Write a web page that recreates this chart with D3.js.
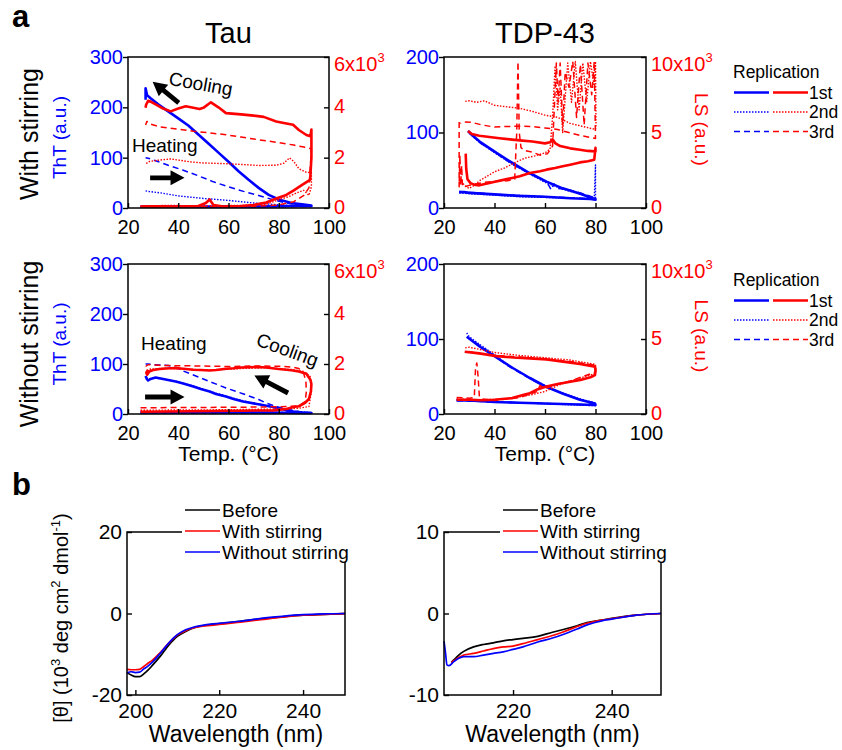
<!DOCTYPE html>
<html>
<head>
<meta charset="utf-8">
<title>Tau / TDP-43</title>
<script src="https://cdn.jsdelivr.net/npm/d3@7"></script>
<style>
  body { margin: 0; background: #fff; }
  svg { display: block; font-family: "Liberation Sans", Arial, sans-serif; }
</style>
</head>
<body>
<svg id="fig" width="842" height="750"></svg>
<script>
// ---------- data: panel a, [temperature (°C), value] in measurement order (heating then cooling) ----------
const tempTicks = [20, 40, 60, 80, 100];
const replicates = ["1st", "2nd", "3rd"];

// Tau, with stirring
const tauStirTht1 = [[25,3],[40,3],[55,3],[70,3],[85,4],[93,4],[93,5],[90,7],[85,10],[80,17],[76,26],[72,40],[68,56],[64,73],[60,92],[56,110],[52,128],[48,146],[44,164],[40,178],[36,192],[32,206],[29,218],[27.6,224],[27,238],[27,215]];
const tauStirTht2 = [[25,2],[50,2],[75,2],[93,3],[85,5],[78,7],[70,10],[60,15],[50,19],[40,24],[33,30],[28,33],[27,34]];
const tauStirTht3 = [[25,2],[60,2],[93,3],[93,4],[88,6],[83,10],[78,16],[72,25],[66,33],[60,42],[54,52],[48,64],[42,75],[36,85],[31,94],[28,99],[27,100]];
const tauStirLs1 = [[25,60],[30,70],[40,60],[48,80],[51,200],[52.5,340],[54,120],[58,60],[65,80],[70,120],[75,220],[79,380],[83,520],[86,700],[89,900],[91.5,1060],[92.5,1120],[93,2000],[93,3120],[92.6,2850],[91,2900],[88,3100],[85.7,3310],[82,3380],[79,3440],[74,3620],[70,3670],[65,3720],[59,3770],[56,4000],[53,4200],[50,3980],[48.5,3930],[45,4000],[43,4040],[40,3950],[37,3840],[34,3950],[31,4120],[29,4230],[28,4260],[27.2,4100],[27,3980]];
const tauStirLs2 = [[25,80],[35,100],[50,90],[65,100],[75,150],[80,330],[84,450],[87,600],[90,700],[92,500],[93,850],[93,1400],[91,1420],[88,1560],[86,1850],[84.3,1990],[82,1780],[79,1700],[72,1690],[65,1730],[59,1760],[50,1790],[45,1830],[37,1950],[32,1900],[28.5,1850],[27,1750]];
const tauStirLs3 = [[25,40],[40,40],[55,50],[70,70],[80,120],[86,250],[90,500],[92,800],[93,2300],[93,2350],[90,2420],[86,2500],[80,2600],[72,2710],[65,2820],[59,2910],[52,2990],[46,3050],[40,3130],[33,3220],[29,3330],[27.5,3440],[27,3300]];

// Tau, without stirring
const tauNoTht1 = [[25,3],[45,3],[70,3],[93,2],[88,3],[85.7,5],[82,9],[77.7,14],[72.4,19],[68,23],[65.8,25],[62,30],[59,35],[55,40],[52.5,45],[49,50],[46,55],[42,61],[39,65],[35,69],[31,73],[29,70],[28,67],[27.5,70],[27,76]];
const tauNoTht2 = [[25,4],[60,4],[93,3],[85,6],[78,13],[72,20],[66,26],[59,36],[52,46],[46,56],[40,64],[34,70],[30,72],[28,70],[27,73]];
const tauNoTht3 = [[25,2],[93,2],[89,4],[86,7],[82,11],[79,15],[75,22],[72,29],[66,40],[59,52],[53,64],[46,78],[42,86],[39,93],[36,97],[32,98],[28,100],[27,100]];
const tauNoLs1 = [[25,90],[35,100],[45,110],[55,120],[65,130],[72,140],[78,146],[83,200],[86,280],[88,310],[90.5,450],[92,600],[92.8,900],[93,1200],[92.6,1370],[91,1610],[88,1700],[85,1750],[80,1800],[75,1860],[72,1880],[68,1870],[65,1860],[62,1830],[59,1810],[55,1760],[52.5,1740],[49,1760],[46,1770],[42,1810],[39,1840],[35,1820],[32.6,1800],[30,1760],[28.5,1700],[27.6,1570],[27.3,1650],[28,1770]];
const tauNoLs2 = [[25,150],[40,160],[60,170],[80,200],[88,230],[92,300],[93,900],[92.5,1500],[90,1700],[85,1780],[75,1850],[65,1820],[55,1760],[45,1780],[35,1830],[29,1800],[27,1700]];
const tauNoLs3 = [[25,250],[45,260],[65,270],[80,290],[88,320],[90.5,500],[91,900],[90.8,1300],[90,1600],[88,1820],[85,1880],[80,1910],[70,1920],[60,1900],[50,1920],[40,1930],[32,1950],[28,1970],[27,1900]];

// TDP-43, with stirring
const tdpStirTht1 = [[26,21],[28,21],[30,20],[35,19],[40,18],[50,16],[60,15],[70,13],[78,12],[80,11],[80,12],[79,13],[74,19],[67,26],[60.6,35],[54,46],[47.4,59],[40.8,73],[34.1,88],[31,97],[29.5,102]];
const tdpStirTht2 = [[26,20],[30,19],[40,17],[50,15],[60,14],[70,13],[79.5,12],[80,57],[80,12],[74,18],[67,25],[60,34],[54,45],[47,58],[41,71],[34,87],[30,99]];
const tdpStirTht3 = [[26,22],[40,18],[60,15],[80,12],[80,13],[74,20],[68,25],[65,26],[63.5,32],[62.5,24],[61,33],[58,40],[54,46],[47,58],[41,72],[34,87],[30,100]];
const tdpStirLs1 = [[28.6,3600],[28.8,2600],[29.3,1900],[30.5,1650],[32,1550],[34,1500],[38,1650],[41,1770],[44,1880],[47,1990],[50,2100],[54,2320],[58,2430],[60.6,2540],[64,2650],[67,2760],[70,2870],[73.8,3020],[77,3100],[79.5,3200],[80,3980],[80,3750],[77,3780],[73.8,3860],[70,3950],[66,4100],[64,4300],[63,4550],[62,4350],[60,4280],[55,4400],[50,4480],[47,4530],[42,4620],[38,4700],[34,4790],[31,4900],[29.5,5100]];
const tdpStirLs2 = [[27,1800],[28,1500],[30,1300],[32,1500],[34,1800],[37,2100],[40,2400],[44,2650],[48,3000],[52,3300],[56,3450],[60,3650],[62,3900],[63,6000],[64,9400],[65,6500],[66,8000],[67,5000],[69,9600],[70.5,7000],[72,9700],[73.5,6500],[75,9600],[76.5,7000],[78,9700],[79.5,8000],[80,9700],[80.2,5500],[80,5200],[75,5400],[70,5600],[65,6000],[60,6150],[55,6400],[50,6600],[45,6700],[40,6800],[36,7100],[33,7000],[30,7100],[28,7050]];
const tdpStirLs3 = [[26,5700],[26,1400],[26.3,3500],[26.6,1500],[27,2800],[27.3,1450],[28,1400],[30,1500],[33,1600],[36,1700],[40,1750],[45,1800],[48,1900],[48.8,5000],[49.3,9700],[49.8,5000],[50.5,4000],[52,3800],[55,3700],[58,3500],[61,3600],[63,4100],[64.5,9600],[65.2,7000],[66,9600],[67,5500],[68,9000],[69.5,8000],[71,9700],[72.5,6000],[74,9500],[75.5,5500],[77,9600],[78.5,7500],[79.5,9700],[80,4600],[77,4700],[74,4800],[70,4970],[65,5200],[60,5300],[55,5400],[50,5410],[45,5400],[40,5360],[35,5500],[31,5670],[28,5700],[26.5,5600]];

// TDP-43, without stirring
const tdpNoTht1 = [[25,18],[30,18],[40,16],[50,15],[60,14],[70,13],[80,12],[79.8,14],[73.8,19],[67.2,27],[60,37],[54,48],[47.4,61],[40,77],[34.1,90],[31,98],[29,103]];
const tdpNoTht2 = [[25,19],[35,17],[50,15],[65,13],[80,11],[79.5,15],[73,21],[66,29],[60,38],[53,50],[46,64],[40,79],[34,93],[30,103],[29,108]];
const tdpNoTht3 = [[25,18],[40,16],[60,14],[80,12],[79,15],[72,21],[65,30],[58,40],[52,51],[45,65],[39,80],[33,94],[30,101]];
const tdpNoLs1 = [[25,950],[30,950],[35,920],[40,950],[47,1060],[52,1300],[54,1390],[56.6,1610],[60.6,1830],[65,2000],[70,2150],[74,2270],[78,2450],[79.8,2600],[80,2900],[79.8,3160],[73.8,3330],[67.2,3490],[60.6,3640],[54,3710],[47.4,3770],[40.8,3860],[34,4040],[28.2,4150]];
const tdpNoLs2 = [[25,1000],[35,950],[45,1000],[55,1300],[60,1500],[65,1900],[70,2200],[80,2700],[80,3200],[80,3300],[70,3600],[60,3750],[50,3900],[40,4100],[30,4450],[28,4400]];
const tdpNoLs3 = [[25,1100],[30,1050],[32,1100],[32.5,3100],[33,3400],[33.5,2500],[34,1200],[35,1000],[40,900],[50,1100],[57,1500],[58,1900],[60,1700],[65,2000],[70,2200],[80,2800],[80,3200],[80,3250],[70,3500],[60,3650],[50,3800],[40,3900],[33,4050],[29,4200]];

// ---------- data: panel b, CD spectra ----------
const cdSamples = ["Before", "With stirring", "Without stirring"];
const tauWl = [198,199,200,201,202,203,204,206,208,210,212,214,216,218,220,225,230,235,240,245,250];
const tauBefore = [-14.5,-15.1,-15.5,-15.5,-14.8,-13.9,-12.8,-10.4,-7.7,-5.6,-4.4,-3.5,-3.0,-2.7,-2.5,-1.9,-1.3,-0.8,-0.4,-0.2,0];
const tauStir   = [-13.7,-13.8,-13.8,-13.7,-13.0,-12.2,-11.5,-9.5,-7.2,-5.3,-4.2,-3.5,-3.1,-2.9,-2.7,-2.1,-1.5,-0.9,-0.4,-0.2,0];
const tauNoStir = [-14.6,-14.3,-14.5,-14.4,-13.6,-12.9,-12.0,-9.7,-7.2,-5.2,-4.0,-3.3,-2.9,-2.6,-2.4,-1.9,-1.2,-0.7,-0.3,-0.1,0];
const tdpWlA = [207.5,208,209,210,212,214,216,218,220,222,225,228,230,233,235,238,240,245,250];
const tdpBefore = [-6.0,-5.7,-5.1,-4.65,-4.1,-3.8,-3.6,-3.35,-3.2,-3.05,-2.8,-2.3,-2.0,-1.5,-1.1,-0.8,-0.6,-0.2,0];
const tdpStir   = [-6.0,-5.8,-5.4,-5.1,-4.9,-4.6,-4.3,-4.1,-4.0,-3.7,-3.2,-2.7,-2.3,-1.6,-1.2,-0.8,-0.65,-0.2,0];
const tdpWlB = [206,206.3,206.6,207,208,209,210,212,214,216,218,220,222,225,228,230,233,235,238,240,245,250];
const tdpNoStir = [-3.4,-4.8,-6.3,-6.4,-5.9,-5.5,-5.3,-5.3,-5.1,-4.9,-4.7,-4.4,-4.1,-3.5,-3.0,-2.6,-1.9,-1.4,-0.9,-0.7,-0.2,0];

// ---------- drawing ----------
const BLUE = "#0000ff", RED = "#ff0000";
const repStyle = [
  { w: 2.6, dash: null },
  { w: 1.4, dash: "1.5,1.5" },
  { w: 1.5, dash: "6,4" }
];
const svg = d3.select("#fig");
const noMinus = d => String(d);

function arrow(g, p1, p2) {
  const a = Math.atan2(p2[1] - p1[1], p2[0] - p1[0]) * 180 / Math.PI;
  const L = Math.hypot(p2[0] - p1[0], p2[1] - p1[1]);
  const hl = 14, hw = 7.5, sw = 2.4;
  const pts = [[0,-sw],[L-hl,-sw],[L-hl,-hw],[L,0],[L-hl,hw],[L-hl,sw],[0,sw]];
  g.append("polygon")
    .attr("points", pts.map(p => p.join(",")).join(" "))
    .attr("transform", `translate(${p1[0]},${p1[1]}) rotate(${a})`)
    .attr("fill", "#000");
}

function panelA(p) {
  const x = d3.scaleLinear().domain([20, 100]).range([p.x0, p.x0 + p.w]);
  const yL = d3.scaleLinear().domain([0, p.thtMax]).range([p.y0 + p.h, p.y0]);
  const yR = d3.scaleLinear().domain([0, p.lsMax]).range([p.y0 + p.h, p.y0]);
  const g = svg.append("g");

  const drawSet = (sets, y, color) => {
    [2, 1, 0].forEach(i => {
      g.append("path")
        .attr("d", d3.line().x(d => x(d[0])).y(d => y(d[1]))(sets[i]))
        .attr("fill", "none")
        .attr("stroke", color)
        .attr("stroke-width", repStyle[i].w)
        .attr("stroke-dasharray", repStyle[i].dash)
        .attr("stroke-linejoin", "round");
    });
  };
  drawSet(p.tht, yL, BLUE);
  drawSet(p.ls, yR, RED);

  g.append("rect")
    .attr("x", p.x0).attr("y", p.y0).attr("width", p.w).attr("height", p.h)
    .attr("fill", "none").attr("stroke", "#000").attr("stroke-width", 1.5);

  const gx = g.append("g").attr("transform", `translate(0,${p.y0 + p.h})`)
    .call(d3.axisBottom(x).tickValues(tempTicks).tickSize(-5).tickPadding(12));
  const gl = g.append("g").attr("transform", `translate(${p.x0},0)`)
    .call(d3.axisLeft(yL).tickValues(p.thtTicks).tickSize(5).tickPadding(0));
  const gr = g.append("g").attr("transform", `translate(${p.x0 + p.w},0)`)
    .call(d3.axisRight(yR).tickValues(p.lsTicks).tickSize(-5).tickPadding(5)
      .tickFormat(d => d === p.lsMax ? "" : String(d / 1000)));
  [gx, gl, gr].forEach(a => {
    a.select(".domain").remove();
    a.attr("font-family", null).attr("font-size", 20);
    a.selectAll(".tick line").attr("stroke", "#000").attr("stroke-width", 1.4);
  });
  gx.selectAll("text").attr("fill", "#000");
  gl.selectAll("text").attr("fill", BLUE);
  gr.selectAll("text").attr("fill", RED).attr("dy", "0.28em");

  const top = g.append("text").attr("x", p.x0 + p.w + 5).attr("y", p.y0 + 14)
    .attr("fill", RED).attr("font-size", 20).text(`${p.lsMax / 1000}x10`);
  top.append("tspan").attr("dy", -9).attr("font-size", 13).text("3");

  if (p.thtLabel) {
    g.append("text")
      .attr("transform", `translate(${p.x0 - 62},${p.y0 + p.h / 2 + 5}) rotate(-90)`)
      .attr("text-anchor", "middle").attr("fill", BLUE).attr("font-size", 19)
      .text("ThT (a.u.)");
  }
  if (p.lsLabel) {
    g.append("text")
      .attr("transform", `translate(${p.x0 + p.w + 49},${p.y0 + p.h / 2 - 3}) rotate(90)`)
      .attr("text-anchor", "middle").attr("fill", RED).attr("font-size", 19)
      .text("LS (a.u.)");
  }

  if (p.xLabel) {
    g.append("text").attr("x", p.x0 + p.w / 2).attr("y", p.y0 + p.h + 47)
      .attr("text-anchor", "middle").attr("font-size", 21).text("Temp. (°C)");
  }

  (p.notes || []).forEach(n => {
    if (n.type === "text") {
      g.append("text")
        .attr("transform", `translate(${x(n.at[0])},${yL(n.at[1])}) rotate(${n.angle || 0})`)
        .attr("font-size", 19).text(n.label);
    } else {
      arrow(g, [x(n.from[0]), yL(n.from[1])], [x(n.to[0]), yL(n.to[1])]);
    }
  });
}

function replicationLegend(x0, y0) {
  const g = svg.append("g").attr("font-size", 17.5);
  g.append("text").attr("x", x0).attr("y", y0 + 6).text("Replication");
  replicates.forEach((r, i) => {
    const yy = y0 + 20.5 + i * 19.5;
    [[BLUE, x0 + 1, x0 + 36], [RED, x0 + 40, x0 + 75]].forEach(([c, a, b]) => {
      g.append("line").attr("x1", a).attr("x2", b).attr("y1", yy).attr("y2", yy)
        .attr("stroke", c).attr("stroke-width", repStyle[i].w)
        .attr("stroke-dasharray", repStyle[i].dash);
    });
    g.append("text").attr("x", x0 + 76).attr("y", yy + 6).text(r);
  });
}

panelA({ x0: 128, y0: 57, w: 201, h: 151, thtMax: 300, lsMax: 6000, thtLabel: true,
  thtTicks: [0, 100, 200, 300], lsTicks: [0, 2000, 4000, 6000],
  tht: [tauStirTht1, tauStirTht2, tauStirTht3], ls: [tauStirLs1, tauStirLs2, tauStirLs3],
  notes: [
    { type: "text", label: "Heating", at: [21.6, 111] },
    { type: "arrow", from: [28.8, 60], to: [42.5, 60] },
    { type: "text", label: "Cooling", at: [35.9, 245], angle: 10 },
    { type: "arrow", from: [40.2, 209], to: [29.8, 251] }
  ] });
panelA({ x0: 444, y0: 57, w: 202, h: 151, thtMax: 200, lsMax: 10000, lsLabel: true,
  thtTicks: [0, 100, 200], lsTicks: [0, 5000, 10000],
  tht: [tdpStirTht1, tdpStirTht2, tdpStirTht3], ls: [tdpStirLs1, tdpStirLs2, tdpStirLs3] });
panelA({ x0: 128, y0: 264, w: 201, h: 150, thtMax: 300, lsMax: 6000, thtLabel: true,
  thtTicks: [0, 100, 200, 300], lsTicks: [0, 2000, 4000, 6000], xLabel: true,
  tht: [tauNoTht1, tauNoTht2, tauNoTht3], ls: [tauNoLs1, tauNoLs2, tauNoLs3],
  notes: [
    { type: "text", label: "Heating", at: [25.2, 128] },
    { type: "arrow", from: [26.8, 34], to: [42.5, 34] },
    { type: "text", label: "Cooling", at: [70.5, 138], angle: 20 },
    { type: "arrow", from: [83.7, 42], to: [70.3, 77] }
  ] });
panelA({ x0: 444, y0: 264, w: 202, h: 150, thtMax: 200, lsMax: 10000, lsLabel: true,
  thtTicks: [0, 100, 200], lsTicks: [0, 5000, 10000], xLabel: true,
  tht: [tdpNoTht1, tdpNoTht2, tdpNoTht3], ls: [tdpNoLs1, tdpNoLs2, tdpNoLs3] });

replicationLegend(733, 72);
replicationLegend(733, 280);

// titles and row labels
svg.append("text").attr("x", 228.5).attr("y", 43).attr("text-anchor", "middle")
  .attr("font-size", 29).text("Tau");
svg.append("text").attr("x", 545).attr("y", 43).attr("text-anchor", "middle")
  .attr("font-size", 29).text("TDP-43");
svg.append("text").attr("transform", "translate(38,134) rotate(-90)")
  .attr("text-anchor", "middle").attr("font-size", 25).text("With stirring");
svg.append("text").attr("transform", "translate(38,344) rotate(-90)")
  .attr("text-anchor", "middle").attr("font-size", 25).text("Without stirring");
svg.append("text").attr("x", 12).attr("y", 27).attr("font-size", 31)
  .attr("font-weight", "bold").text("a");
svg.append("text").attr("x", 12).attr("y", 495).attr("font-size", 31)
  .attr("font-weight", "bold").text("b");

// ---------- panel b ----------
const cdColors = ["#000000", RED, BLUE];

function panelB(p) {
  const x = d3.scaleLinear().domain(p.xDom).range([p.x0, p.x0 + p.w]);
  const y = d3.scaleLinear().domain([-p.yMax, p.yMax]).range([p.y0 + p.h, p.y0]);
  const g = svg.append("g");
  p.series.forEach((s, i) => {
    g.append("path")
      .attr("d", d3.line().x((d, j) => x(s.wl[j])).y(d => y(d)).curve(d3.curveMonotoneX)(s.v))
      .attr("fill", "none").attr("stroke", cdColors[i]).attr("stroke-width", 1.7);
  });
  g.append("rect")
    .attr("x", p.x0).attr("y", p.y0).attr("width", p.w).attr("height", p.h)
    .attr("fill", "none").attr("stroke", "#000").attr("stroke-width", 1.5);
  const gx = g.append("g").attr("transform", `translate(0,${p.y0 + p.h})`)
    .call(d3.axisBottom(x).tickValues(p.xTicks).tickSize(-5).tickPadding(8));
  const gy = g.append("g").attr("transform", `translate(${p.x0},0)`)
    .call(d3.axisLeft(y).tickValues([-p.yMax, 0, p.yMax]).tickSize(-5).tickPadding(5).tickFormat(noMinus));
  [gx, gy].forEach(a => {
    a.select(".domain").remove();
    a.attr("font-family", null).attr("font-size", 21);
    a.selectAll(".tick line").attr("stroke", "#000").attr("stroke-width", 1.4);
    a.selectAll("text").attr("fill", "#000");
  });
  g.append("text").attr("x", p.x0 + p.w / 2).attr("y", 742)
    .attr("text-anchor", "middle").attr("font-size", 23).text("Wavelength (nm)");

  // legend with white background
  const lg = g.append("g").attr("font-size", 19);
  lg.append("rect").attr("x", p.lx - 3).attr("y", 495).attr("width", 172).attr("height", 67)
    .attr("fill", "#fff");
  cdSamples.forEach((name, i) => {
    const yy = 510 + i * 21;
    lg.append("line").attr("x1", p.lx).attr("x2", p.lx + 35).attr("y1", yy).attr("y2", yy)
      .attr("stroke", cdColors[i]).attr("stroke-width", 1.7);
    lg.append("text").attr("x", p.lx + 37).attr("y", yy + 7).text(name);
  });
}

panelB({ x0: 127, y0: 532, w: 218, h: 163, xDom: [198, 250], yMax: 20, xTicks: [200, 220, 240], lx: 185,
  series: [{ wl: tauWl, v: tauBefore }, { wl: tauWl, v: tauStir }, { wl: tauWl, v: tauNoStir }] });
panelB({ x0: 444, y0: 532, w: 217, h: 163, xDom: [206, 250], yMax: 10, xTicks: [220, 240], lx: 503,
  series: [{ wl: tdpWlA, v: tdpBefore }, { wl: tdpWlA, v: tdpStir }, { wl: tdpWlB, v: tdpNoStir }] });

// y label of panel b
const yl = svg.append("text").attr("transform", "translate(68,618) rotate(-90)")
  .attr("text-anchor", "middle").attr("font-size", 20);
yl.append("tspan").text("[θ] (10");
yl.append("tspan").attr("dy", -8).attr("font-size", 13).text("3");
yl.append("tspan").attr("dy", 8).text(" deg cm");
yl.append("tspan").attr("dy", -8).attr("font-size", 13).text("2");
yl.append("tspan").attr("dy", 8).text(" dmol");
yl.append("tspan").attr("dy", -8).attr("font-size", 13).text("-1");
yl.append("tspan").attr("dy", 8).text(")");
</script>
</body>
</html>
